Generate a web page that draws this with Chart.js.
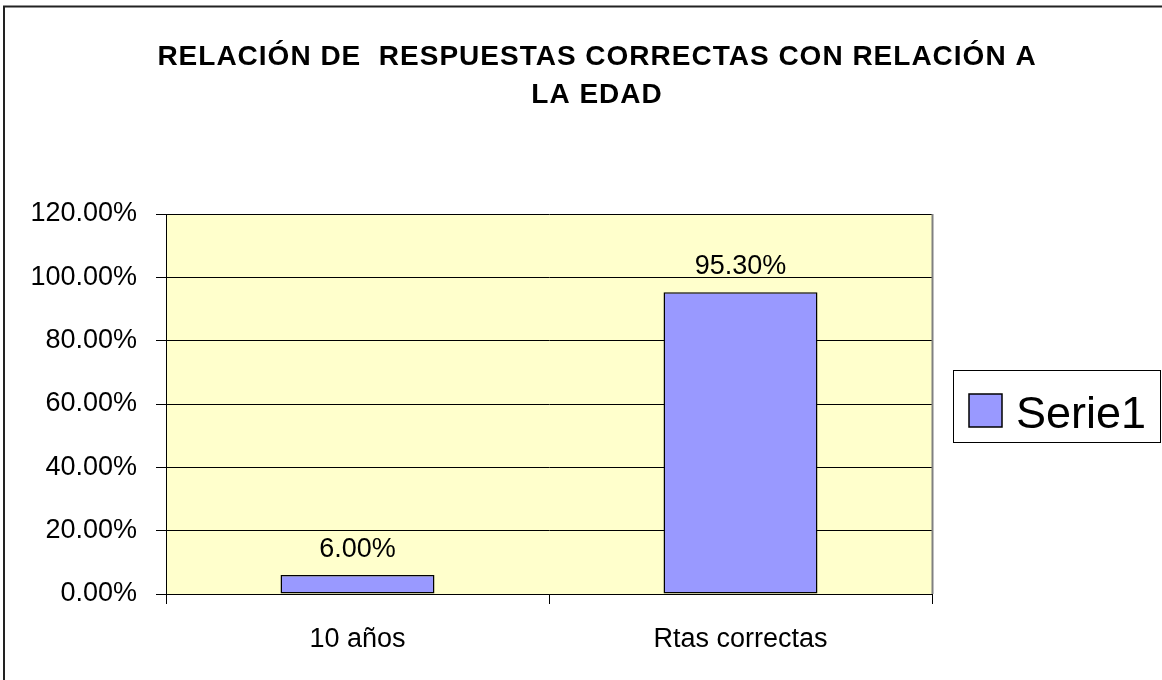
<!DOCTYPE html>
<html>
<head>
<meta charset="utf-8">
<script src="https://cdn.jsdelivr.net/npm/chart.js@4.4.1/dist/chart.umd.min.js"></script>
<style>
  html, body { margin: 0; padding: 0; background: #fff; }
  canvas { display: block; }
</style>
</head>
<body>
<canvas id="grafico" width="1162" height="680" style="width:1162px;height:680px"></canvas>
<script>
// Datos del gráfico
const categorias = ['10 años', 'Rtas correctas'];
const valores = [0.06, 0.953];
const nombreSerie = 'Serie1';
const titulo = ['RELACIÓN DE  RESPUESTAS CORRECTAS CON RELACIÓN A', 'LA EDAD'];
const ejeMax = 1.2;
const ejePaso = 0.2;

const FUENTE = '"Liberation Sans", Arial, sans-serif';
const COLOR_BARRA = '#9999FF';
const COLOR_FONDO = '#FFFFCC';

function formatoPct(v) {
    return (v * 100).toFixed(2) + '%';
}

const decoracion = {
    id: 'decoracion',
    beforeDraw(chart) {
        const ctx = chart.ctx;
        const a = chart.chartArea;
        ctx.save();
        ctx.fillStyle = '#fff';
        ctx.fillRect(0, 0, chart.width, chart.height);
        ctx.fillStyle = COLOR_FONDO;
        ctx.fillRect(a.left, a.top, a.right - a.left, a.bottom - a.top);
        ctx.restore();
    },
    afterDatasetsDraw(chart) {
        // etiquetas de valor encima de cada barra
        const ctx = chart.ctx;
        const meta = chart.getDatasetMeta(0);
        ctx.save();
        ctx.font = '27px ' + FUENTE;
        ctx.fillStyle = '#000';
        ctx.textAlign = 'center';
        ctx.textBaseline = 'alphabetic';
        meta.data.forEach(function(bar, i) {
            ctx.fillText(formatoPct(valores[i]), bar.x, bar.y - 18);
        });
        ctx.restore();
    },
    afterDraw(chart) {
        const ctx = chart.ctx;
        const a = chart.chartArea;
        ctx.save();

        // borde derecho del área de trazado
        ctx.strokeStyle = '#808080';
        ctx.lineWidth = 2;
        ctx.beginPath();
        ctx.moveTo(a.right + 0.5, a.top);
        ctx.lineTo(a.right + 0.5, a.bottom);
        ctx.stroke();

        // título
        ctx.fillStyle = '#000';
        ctx.font = 'bold 28px ' + FUENTE;
        ctx.letterSpacing = '1px';
        ctx.textAlign = 'center';
        ctx.fillText(titulo[0], 597, 65);
        ctx.fillText(titulo[1], 597, 103);
        ctx.letterSpacing = '0px';

        // leyenda
        ctx.fillStyle = '#fff';
        ctx.fillRect(953.5, 370.5, 207, 72);
        ctx.strokeStyle = '#000';
        ctx.lineWidth = 1;
        ctx.strokeRect(953.5, 370.5, 207, 72);
        ctx.fillStyle = COLOR_BARRA;
        ctx.fillRect(969, 394, 33, 33);
        ctx.lineWidth = 1.5;
        ctx.strokeRect(969, 394, 33, 33);
        ctx.fillStyle = '#000';
        ctx.font = '45px ' + FUENTE;
        ctx.textAlign = 'left';
        ctx.fillText(nombreSerie, 1016, 428);

        // marco exterior
        ctx.strokeStyle = '#222';
        ctx.lineWidth = 2;
        ctx.beginPath();
        ctx.moveTo(4, 680);
        ctx.lineTo(4, 6.5);
        ctx.lineTo(1162, 6.5);
        ctx.stroke();
        ctx.restore();
    }
};

new Chart(document.getElementById('grafico'), {
    type: 'bar',
    data: {
        labels: categorias,
        datasets: [{
            label: nombreSerie,
            data: valores,
            backgroundColor: COLOR_BARRA,
            borderColor: '#000',
            borderWidth: 1.5,
            borderSkipped: false,
            categoryPercentage: 1,
            barPercentage: 0.402
        }]
    },
    options: {
        responsive: false,
        animation: false,
        layout: { padding: { top: 214, right: 230, bottom: 0, left: 0 } },
        plugins: {
            legend: { display: false },
            title: { display: false },
            tooltip: { enabled: false }
        },
        scales: {
            x: {
                afterFit(scale) { scale.height = 86; },
                grid: {
                    offset: true,
                    drawOnChartArea: false,
                    drawTicks: true,
                    tickLength: 10,
                    color: '#000',
                    lineWidth: 1
                },
                border: { display: true, color: '#000', width: 1 },
                ticks: {
                    color: '#000',
                    font: { family: FUENTE, size: 27 },
                    padding: 19,
                    maxRotation: 0
                }
            },
            y: {
                min: 0,
                max: ejeMax,
                afterFit(scale) { scale.width = 166; },
                grid: {
                    color: '#000',
                    lineWidth: 1,
                    tickLength: 10,
                    drawTicks: true
                },
                border: { display: true, color: '#000', width: 1 },
                ticks: {
                    stepSize: ejePaso,
                    color: '#000',
                    font: { family: FUENTE, size: 27 },
                    padding: 19,
                    callback: function(v) { return formatoPct(v); }
                }
            }
        }
    },
    plugins: [decoracion]
});
</script>
</body>
</html>
